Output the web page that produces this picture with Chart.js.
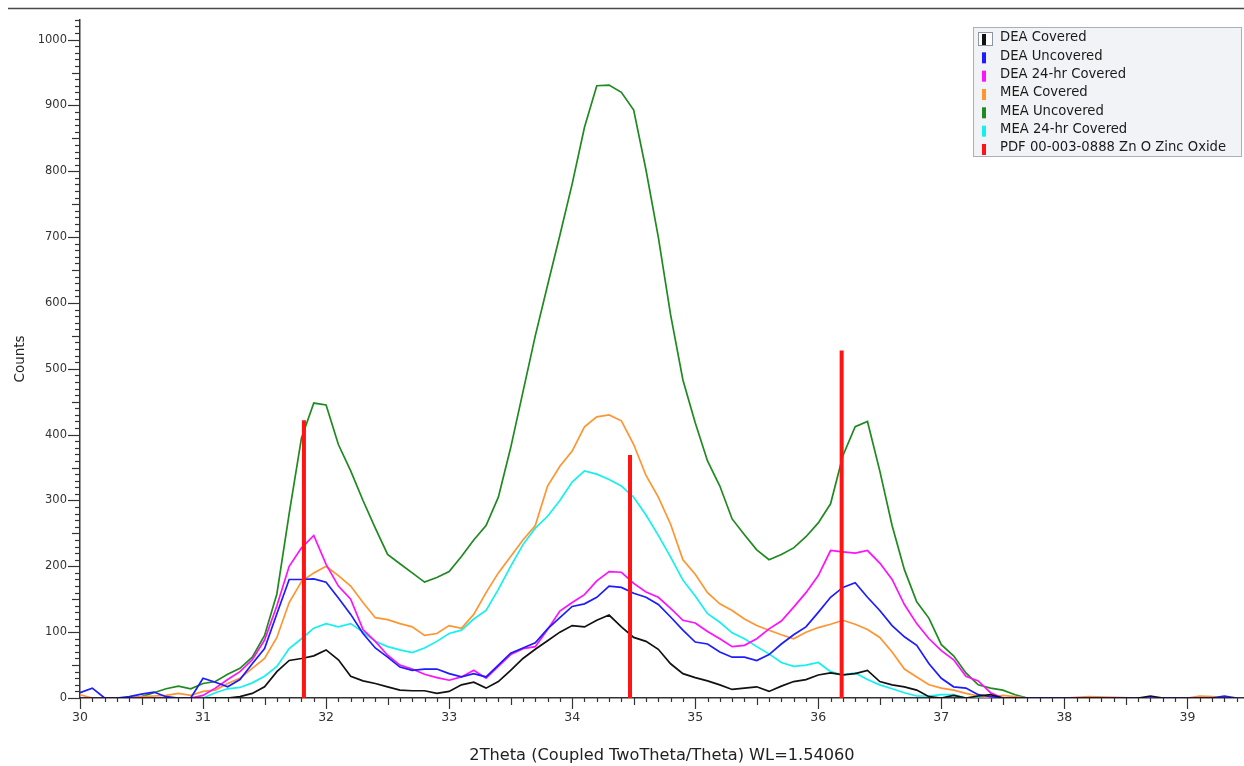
<!DOCTYPE html>
<html>
<head>
<meta charset="utf-8">
<title>XRD ZnO</title>
<script src="https://cdn.jsdelivr.net/npm/chart.js@4.4.1/dist/chart.umd.min.js"></script>
<style>
    html, body { margin: 0; padding: 0; background: #fff; }
    #wrap { position: relative; width: 1244px; height: 766px; }
</style>
</head>
<body>
<div id="wrap"><canvas id="xrdChart"></canvas></div>
<script>
// 2Theta positions (deg)
const twoTheta = [
    30.0, 30.1, 30.2, 30.3, 30.4, 30.5, 30.6, 30.7, 30.8, 30.9,
    31.0, 31.1, 31.2, 31.3, 31.4, 31.5, 31.6, 31.7, 31.8, 31.9,
    32.0, 32.1, 32.2, 32.3, 32.4, 32.5, 32.6, 32.7, 32.8, 32.9,
    33.0, 33.1, 33.2, 33.3, 33.4, 33.5, 33.6, 33.7, 33.8, 33.9,
    34.0, 34.1, 34.2, 34.3, 34.4, 34.5, 34.6, 34.7, 34.8, 34.9,
    35.0, 35.1, 35.2, 35.3, 35.4, 35.5, 35.6, 35.7, 35.8, 35.9,
    36.0, 36.1, 36.2, 36.3, 36.4, 36.5, 36.6, 36.7, 36.8, 36.9,
    37.0, 37.1, 37.2, 37.3, 37.4, 37.5, 37.6, 37.7, 37.8,
    38.0, 38.2, 38.6, 38.7, 38.8, 39.0, 39.1, 39.2, 39.3, 39.4
];

// counts per series
const deaCovered = [
    0, 0, 0, 0, 0, 0, 0, 0, 0, 0,
    0, 0, 0, 2, 7, 17, 40, 57, 60, 64,
    73, 58, 33, 26, 22, 17, 12, 11, 11, 7,
    10, 20, 24, 15, 25, 42, 60, 74, 87, 100,
    110, 108, 118, 126, 108, 92, 86, 74, 52, 37,
    31, 26, 20, 13, 15, 17, 10, 18, 25, 28,
    35, 38, 35, 37, 42, 25, 20, 17, 12, 2,
    0, 4, 0, 3, 5, 0, 0, 0, 0,
    0, 0, 0, 3, 0, 0, 0, 0, 0, 0
];
const deaUncovered = [
    8, 15, 0, 0, 2, 6, 9, 2, 0, 0,
    30, 24, 17, 28, 52, 75, 128, 180, 180, 181,
    176, 152, 127, 98, 76, 62, 47, 42, 44, 44,
    37, 32, 37, 32, 50, 68, 76, 84, 105, 122,
    139, 143, 153, 170, 168, 159, 153, 142, 123, 103,
    85, 82, 70, 62, 62, 57, 66, 82, 96, 108,
    130, 153, 168, 175, 153, 133, 110, 93, 80, 52,
    30, 17, 15, 5, 2, 0, 0, 0, 0,
    0, 0, 0, 0, 0, 0, 0, 0, 3, 0
];
const dea24hrCovered = [
    0, 0, 0, 0, 0, 0, 0, 0, 0, 0,
    4, 15, 28, 40, 58, 88, 140, 200, 228, 247,
    203, 170, 150, 104, 86, 65, 50, 44, 36, 31,
    27, 32, 42, 30, 48, 66, 75, 78, 104, 132,
    145, 157, 178, 192, 191, 174, 161, 153, 136, 118,
    114, 101, 90, 78, 80, 90, 105, 117, 138, 160,
    186, 224, 222, 220, 224, 205, 180, 142, 113, 90,
    72, 58, 33, 26, 8, 0, 0, 0, 0,
    0, 0, 0, 0, 0, 0, 0, 0, 0, 0
];
const meaCovered = [
    5, 0, 0, 0, 0, 2, 3, 4, 7, 4,
    10, 12, 22, 30, 45, 60, 92, 145, 177, 190,
    200, 186, 170, 145, 122, 119, 113, 108, 95, 98,
    110, 106, 127, 160, 190, 215, 240, 262, 322, 352,
    375, 412, 427, 430, 421, 385, 338, 305, 264, 210,
    188, 160, 143, 133, 120, 110, 103, 96, 90, 100,
    107, 112, 118, 112, 104, 92, 70, 44, 32, 20,
    15, 12, 7, 3, 0, 4, 2, 0, 0,
    0, 2, 0, 0, 0, 0, 3, 2, 0, 0
];
const meaUncovered = [
    0, 0, 0, 0, 0, 2, 8, 14, 18, 14,
    22, 25, 36, 45, 62, 95, 158, 280, 395, 448,
    445, 385, 345, 300, 258, 218, 204, 190, 176, 183,
    192, 215, 240, 262, 305, 380, 465, 550, 627, 703,
    781, 867, 930, 931, 920, 893, 802, 700, 582, 483,
    418, 360, 322, 272, 248, 225, 210, 218, 228, 245,
    266, 295, 368, 412, 420, 345, 262, 195, 146, 121,
    81, 64, 38, 20, 15, 12, 5, 0, 0,
    0, 0, 0, 0, 0, 0, 0, 0, 0, 0
];
const mea24hrCovered = [
    0, 0, 0, 0, 0, 0, 0, 0, 0, 0,
    0, 8, 14, 16, 23, 33, 48, 75, 90, 106,
    113, 108, 113, 100, 86, 78, 73, 69, 76, 86,
    98, 103, 120, 133, 165, 200, 233, 258, 276, 300,
    328, 345, 340, 332, 322, 305, 278, 247, 214, 179,
    155, 128, 115, 99, 90, 78, 67, 54, 48, 50,
    54, 40, 35, 38, 28, 20, 14, 8, 3, 3,
    5, 5, 0, 0, 0, 0, 0, 0, 0,
    0, 0, 0, 0, 0, 0, 0, 0, 0, 0
];

// reference pattern PDF 00-003-0888 (stick positions and heights)
const pdfPositions = [31.82, 34.47, 36.19];
const pdfCounts = [422, 369, 528];

const seriesLabels = [
    "DEA Covered", "DEA Uncovered", "DEA 24-hr Covered",
    "MEA Covered", "MEA Uncovered", "MEA 24-hr Covered"
];
const seriesValues = [deaCovered, deaUncovered, dea24hrCovered, meaCovered, meaUncovered, mea24hrCovered];
const seriesColors = ["#111111", "#1c1cff", "#ff10ff", "#ff9530", "#1f8a1f", "#14f0f0"];
const pdfLabel = "PDF 00-003-0888 Zn O Zinc Oxide";
const pdfColor = "#ff1414";

const xMin = 30, xMax = 39.46;
const yMin = 0, yMax = 1030;

const tickFont = 'DejaVu Sans';

function toPoints(values) {
    return twoTheta.map((x, i) => ({x: x, y: values[i]}));
}

let datasets = seriesValues.map((vals, i) => ({
    label: seriesLabels[i],
    data: toPoints(vals),
    borderColor: seriesColors[i],
    backgroundColor: seriesColors[i],
    borderWidth: 1.7,
    pointRadius: 0,
    tension: 0,
    order: i + 1
}));

let pdfData = [];
pdfPositions.forEach((x, i) => {
    pdfData.push({x: x, y: 0});
    pdfData.push({x: x, y: pdfCounts[i]});
    pdfData.push({x: x, y: null});
});
datasets.push({
    label: pdfLabel,
    data: pdfData,
    borderColor: pdfColor,
    backgroundColor: pdfColor,
    borderWidth: 4,
    borderCapStyle: 'butt',
    pointRadius: 0,
    spanGaps: false,
    order: 0
});

// minor ticks, top rule and the boxed legend
const decorPlugin = {
    id: 'decor',
    afterDraw(chart) {
        const ctx = chart.ctx;
        const xs = chart.scales.x;
        const ys = chart.scales.y;
        const area = chart.chartArea;
        ctx.save();

        ctx.strokeStyle = '#4a4a4a';
        ctx.lineWidth = 1.5;
        ctx.beginPath();
        ctx.moveTo(8, 8.5);
        ctx.lineTo(chart.width, 8.5);
        ctx.stroke();

        ctx.strokeStyle = '#333';
        ctx.lineWidth = 1.2;
        for (let v = 0; v <= yMax; v += 10) {
            const py = Math.round(ys.getPixelForValue(v)) + 0.5;
            const len = v % 100 === 0 ? 12 : (v % 50 === 0 ? 8 : 5);
            ctx.beginPath();
            ctx.moveTo(area.left - len, py);
            ctx.lineTo(area.left, py);
            ctx.stroke();
        }
        for (let i = 0; i <= 94; i++) {
            const px = Math.round(xs.getPixelForValue(xMin + i / 10)) + 0.5;
            const len = i % 10 === 0 ? 11 : (i % 5 === 0 ? 7 : 4);
            ctx.beginPath();
            ctx.moveTo(px, area.bottom);
            ctx.lineTo(px, area.bottom + len);
            ctx.stroke();
        }

        // legend box
        const lx = chart.width - 271, ly = 27, lw = 269, lh = 130;
        ctx.fillStyle = '#f2f3f6';
        ctx.fillRect(lx, ly, lw, lh);
        ctx.strokeStyle = '#a9b0bd';
        ctx.lineWidth = 1;
        ctx.strokeRect(lx + 0.5, ly + 0.5, lw - 1, lh - 1);
        ctx.font = '13.2px "DejaVu Sans"';
        ctx.textBaseline = 'middle';
        ctx.textAlign = 'left';
        chart.data.datasets.forEach((ds, i) => {
            const cy = ly + 11 + i * 18.33;
            if (i === 0) {
                ctx.fillStyle = '#ffffff';
                ctx.fillRect(lx + 5, cy - 6, 15, 14);
                ctx.strokeStyle = '#8d95a3';
                ctx.strokeRect(lx + 5.5, cy - 5.5, 14, 13);
            }
            ctx.fillStyle = ds.borderColor;
            ctx.fillRect(lx + 9, cy - 4, 4, 11);
            ctx.fillStyle = '#1a1a1a';
            ctx.fillText(ds.label, lx + 27, cy);
        });
        ctx.restore();
    }
};

new Chart(document.getElementById('xrdChart').getContext('2d'), {
    type: 'line',
    data: {datasets: datasets},
    plugins: [decorPlugin],
    options: {
        responsive: true,
        maintainAspectRatio: false,
        animation: false,
        parsing: true,
        layout: {padding: {top: 17, right: 0, left: 0, bottom: 0}},
        plugins: {
            legend: {display: false},
            tooltip: {enabled: false}
        },
        scales: {
            x: {
                type: 'linear',
                min: xMin,
                max: xMax,
                grid: {display: true, drawOnChartArea: false, drawTicks: false},
                border: {display: true, color: '#333', width: 1.5},
                ticks: {
                    stepSize: 1,
                    includeBounds: false,
                    padding: 12,
                    maxRotation: 0,
                    color: '#333',
                    font: {family: tickFont, size: 12.5},
                    callback: function (value) { return String(value); }
                },
                title: {
                    display: true,
                    text: '2Theta (Coupled TwoTheta/Theta) WL=1.54060',
                    color: '#222',
                    font: {family: tickFont, size: 16.2},
                    padding: {top: 0, bottom: 0}
                },
                afterFit: function (scale) { scale.height = 68; }
            },
            y: {
                type: 'linear',
                min: yMin,
                max: yMax,
                grid: {display: true, drawOnChartArea: false, drawTicks: false},
                border: {display: true, color: '#333', width: 1.5},
                ticks: {
                    stepSize: 100,
                    includeBounds: false,
                    padding: 13,
                    color: '#333',
                    font: {family: tickFont, size: 11.5},
                    callback: function (value) { return String(value); }
                },
                title: {
                    display: true,
                    text: 'Counts',
                    color: '#222',
                    font: {family: tickFont, size: 13.5},
                    padding: {top: 12, bottom: 0}
                },
                afterFit: function (scale) { scale.width = 80; }
            }
        }
    }
});
</script>
</body>
</html>
